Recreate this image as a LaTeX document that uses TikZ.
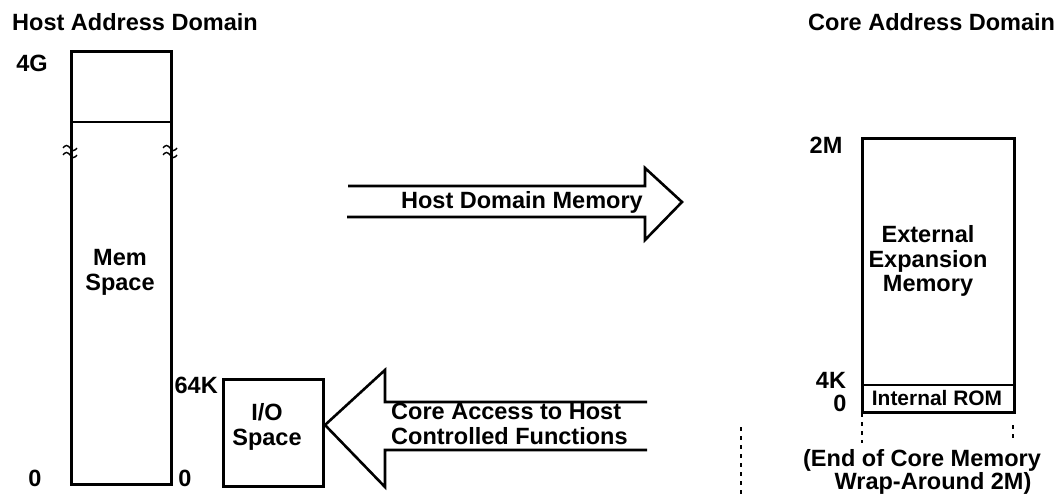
\documentclass[tikz,border=0pt]{standalone}
\usepackage{fontspec}
\setmainfont{Liberation Sans}
\begin{document}
\begin{tikzpicture}[x=1bp,y=-1bp,
  every node/.style={inner sep=0pt,font=\fontsize{23.6}{25}\selectfont\bfseries},
  line/.style={line width=2.6bp,line join=miter},
  region/.style={line,draw,anchor=north west,inner sep=0pt},
  dotline/.style={line width=2.2bp,dash pattern=on 4bp off 5bp},
  squig/.style={line width=1.4bp}]
\useasboundingbox (0,0) rectangle (1059,496);

% titles
\node[anchor=west] (hosttitle) at (12,22) {Host Address Domain};
\node[anchor=west] (coretitle) at (808,22) {Core Address Domain};

% host memory space
\node[region,minimum width=100bp,minimum height=433bp] (mem) at (70,50) {};
\draw[line] (70,122) -- (170,122);
\node (memlbl) at (120,272) [align=center] {Mem\\Space};
\node (lbl4g) at (32,63) {4G};
\node (lbl0a) at (35,478) {0};
\foreach \xx in {70,170}{
  \foreach \yy in {148,155}{
    \draw[squig] (\xx-7,\yy) sin (\xx-3.5,\yy-2.5) cos (\xx,\yy) sin (\xx+3.5,\yy+2.5) cos (\xx+7,\yy);
  }
}

% host I/O space
\node[region,minimum width=100bp,minimum height=107bp] (io) at (222,378) {};
\node (iolbl) at (267,427) [align=center] {I/O\\Space};
\node[anchor=east] (lbl64k) at (218,385) {64K};
\node (lbl0b) at (185,478) {0};

% arrow towards the core domain
\draw[line] (348,186) -- (645,186) -- (645,168) -- (682,202) -- (645,240) -- (645,217) -- (347,217);
\node[anchor=east] (hdm) at (643,202) {Host Domain Memory};

% arrow towards the host I/O space
\draw[line] (647,402) -- (385,402) -- (385,370) -- (325,425) -- (385,487) -- (385,450) -- (647,450);
\node[anchor=west,align=left] (cah) at (391,424) {Core Access to Host\\Controlled Functions};

% core memory map
\node[region,minimum width=152bp,minimum height=274bp] (core) at (861,137) {};
\draw[line] (861,385) -- (1013,385);
\node (extlbl) at (928,261) [align=center] {External\\Expansion\\Memory};
\node (romlbl) at (937,398) {\fontsize{21}{23}\selectfont Internal ROM};
\node (lbl2m) at (826,145) {2M};
\node (lbl4k) at (831,380) {4K};
\node (lbl0c) at (840,403) {0};

% wrap-around markers
\coordinate (wl) at (862,413);
\coordinate (wr) at (1013,425);
\draw[dotline] (wl) -- ++(0,30);
\draw[dotline] (wr) -- ++(0,15);
\coordinate (sep) at (741,427);
\draw[dotline] (sep) -- (741,496);
\node (endlbl1) at (922,460) {(End of Core Memory};
\node (endlbl2) at (933,483) {Wrap-Around 2M)};
\end{tikzpicture}
\end{document}
